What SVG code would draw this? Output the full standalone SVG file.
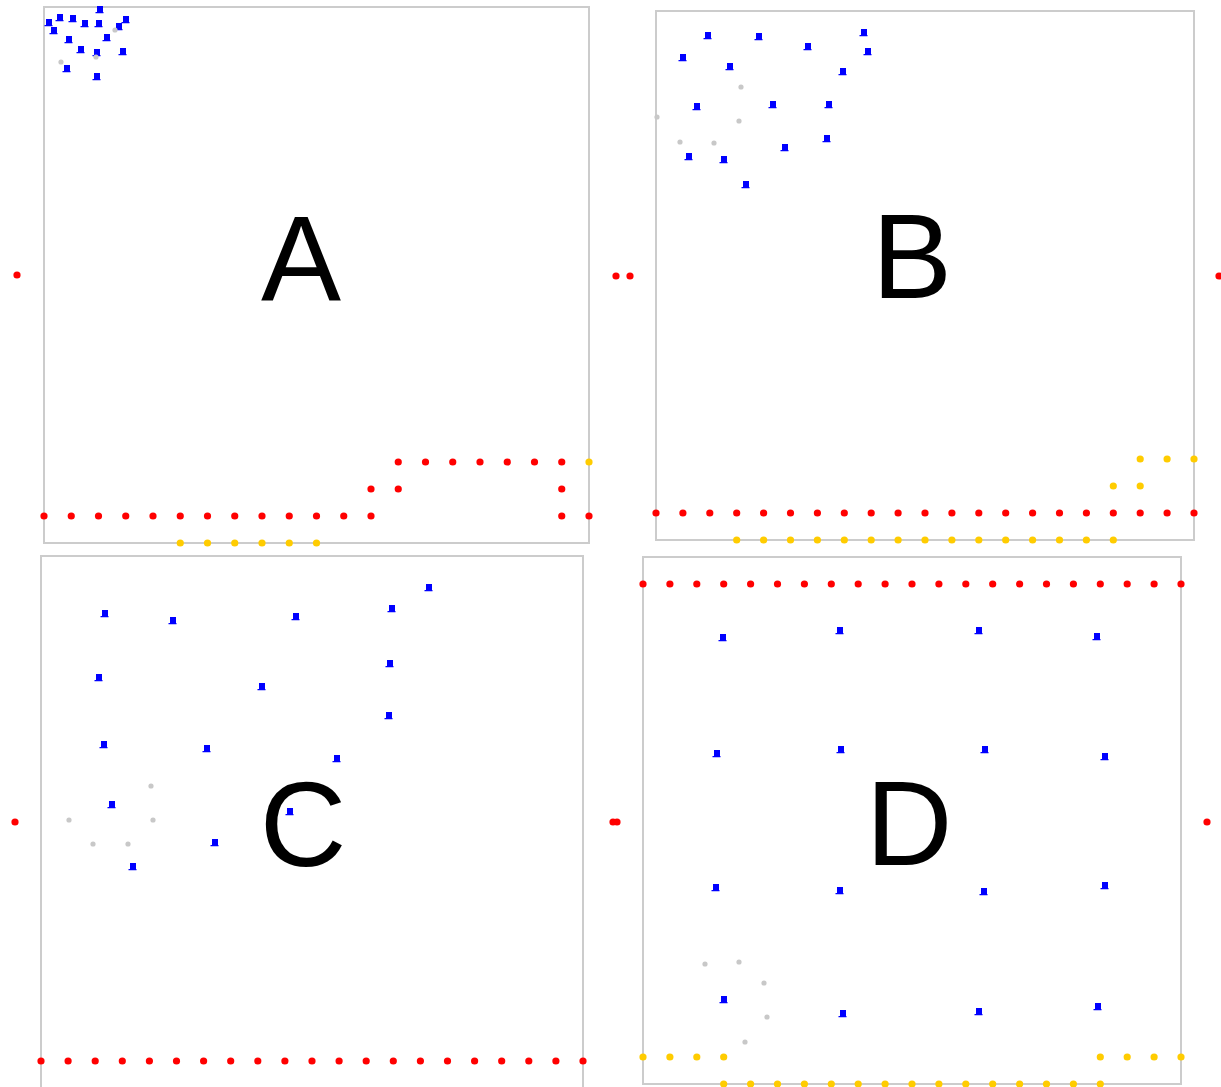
<svg xmlns="http://www.w3.org/2000/svg" xmlns:xlink="http://www.w3.org/1999/xlink" width="1221" height="1087" viewBox="0 0 1221 1087">
<style>
.frame{fill:none;stroke:#cccccc;stroke-width:2}
.lbl{font-family:"Liberation Sans",Arial,sans-serif;font-size:120px;fill:#000;text-anchor:middle}
</style>
<defs>
<circle id="r" r="3.6" fill="#ff0000"/>
<circle id="y" r="3.6" fill="#ffcc00"/>
<circle id="g" r="2.6" fill="#c8c8c8"/>
<path id="b" d="M-3,-3h6v6h-6z M-4.5,3h8v1.2h-8z" fill="#0000ff"/>
</defs>
<rect width="1221" height="1087" fill="#ffffff"/>

<g id="panelA">
<rect class="frame" x="44" y="7" width="545" height="536"/>
<text class="lbl" x="301" y="300">A</text>
<g id="A-blue">
<use href="#b" x="100" y="9"/><use href="#b" x="60" y="17"/><use href="#b" x="73" y="18"/><use href="#b" x="49" y="22"/><use href="#b" x="85" y="23"/><use href="#b" x="99" y="23"/><use href="#b" x="126" y="19"/><use href="#b" x="119" y="26"/><use href="#b" x="54" y="30"/><use href="#b" x="107" y="37"/><use href="#b" x="69" y="39"/><use href="#b" x="81" y="49"/><use href="#b" x="97" y="52"/><use href="#b" x="123" y="51"/><use href="#b" x="67" y="68"/><use href="#b" x="97" y="76"/>
</g>
<g id="A-gray"><use href="#g" x="115" y="30"/><use href="#g" x="96" y="57"/><use href="#g" x="61" y="62"/></g>
<g id="A-red">
<use href="#r" x="44" y="516"/><use href="#r" x="71.25" y="516"/><use href="#r" x="98.5" y="516"/><use href="#r" x="125.75" y="516"/><use href="#r" x="153" y="516"/><use href="#r" x="180.25" y="516"/><use href="#r" x="207.5" y="516"/><use href="#r" x="234.75" y="516"/><use href="#r" x="262" y="516"/><use href="#r" x="289.25" y="516"/><use href="#r" x="316.5" y="516"/><use href="#r" x="343.75" y="516"/><use href="#r" x="371" y="516"/>
<use href="#r" x="371" y="489"/><use href="#r" x="398.25" y="489"/>
<use href="#r" x="398.25" y="462"/><use href="#r" x="425.5" y="462"/><use href="#r" x="452.75" y="462"/><use href="#r" x="480" y="462"/><use href="#r" x="507.25" y="462"/><use href="#r" x="534.5" y="462"/><use href="#r" x="561.75" y="462"/>
<use href="#r" x="561.75" y="489"/><use href="#r" x="561.75" y="516"/><use href="#r" x="589" y="516"/>
</g>
<g id="A-yellow">
<use href="#y" x="589" y="462"/>
<use href="#y" x="180.25" y="543"/><use href="#y" x="207.5" y="543"/><use href="#y" x="234.75" y="543"/><use href="#y" x="262" y="543"/><use href="#y" x="289.25" y="543"/><use href="#y" x="316.5" y="543"/>
</g>
</g>

<g id="panelB">
<rect class="frame" x="656" y="11" width="538" height="529"/>
<text class="lbl" x="912" y="298">B</text>
<g id="B-blue">
<use href="#b" x="708" y="35"/><use href="#b" x="759" y="36"/><use href="#b" x="808" y="46"/><use href="#b" x="864" y="32"/><use href="#b" x="868" y="51"/><use href="#b" x="683" y="57"/><use href="#b" x="730" y="66"/><use href="#b" x="843" y="71"/><use href="#b" x="697" y="106"/><use href="#b" x="773" y="104"/><use href="#b" x="829" y="104"/><use href="#b" x="827" y="138"/><use href="#b" x="785" y="147"/><use href="#b" x="689" y="156"/><use href="#b" x="724" y="159"/><use href="#b" x="746" y="184"/>
</g>
<g id="B-gray"><use href="#g" x="741" y="87"/><use href="#g" x="657" y="117"/><use href="#g" x="739" y="121"/><use href="#g" x="680" y="142"/><use href="#g" x="714" y="143"/></g>
<g id="B-red">
<use href="#r" x="656" y="513"/><use href="#r" x="682.9" y="513"/><use href="#r" x="709.8" y="513"/><use href="#r" x="736.7" y="513"/><use href="#r" x="763.6" y="513"/><use href="#r" x="790.5" y="513"/><use href="#r" x="817.4" y="513"/><use href="#r" x="844.3" y="513"/><use href="#r" x="871.2" y="513"/><use href="#r" x="898.1" y="513"/><use href="#r" x="925" y="513"/><use href="#r" x="951.9" y="513"/><use href="#r" x="978.8" y="513"/><use href="#r" x="1005.7" y="513"/><use href="#r" x="1032.6" y="513"/><use href="#r" x="1059.5" y="513"/><use href="#r" x="1086.4" y="513"/><use href="#r" x="1113.3" y="513"/><use href="#r" x="1140.2" y="513"/><use href="#r" x="1167.1" y="513"/><use href="#r" x="1194" y="513"/>
</g>
<g id="B-yellow">
<use href="#y" x="736.7" y="540"/><use href="#y" x="763.6" y="540"/><use href="#y" x="790.5" y="540"/><use href="#y" x="817.4" y="540"/><use href="#y" x="844.3" y="540"/><use href="#y" x="871.2" y="540"/><use href="#y" x="898.1" y="540"/><use href="#y" x="925" y="540"/><use href="#y" x="951.9" y="540"/><use href="#y" x="978.8" y="540"/><use href="#y" x="1005.7" y="540"/><use href="#y" x="1032.6" y="540"/><use href="#y" x="1059.5" y="540"/><use href="#y" x="1086.4" y="540"/><use href="#y" x="1113.3" y="540"/>
<use href="#y" x="1113.3" y="486"/><use href="#y" x="1140.2" y="486"/>
<use href="#y" x="1140.2" y="459"/><use href="#y" x="1167.1" y="459"/><use href="#y" x="1194" y="459"/>
</g>
</g>

<g id="panelC">
<rect class="frame" x="41" y="556" width="542" height="540"/>
<text class="lbl" x="303" y="866">C</text>
<g id="C-blue">
<use href="#b" x="105" y="613"/><use href="#b" x="173" y="620"/><use href="#b" x="296" y="616"/><use href="#b" x="392" y="608"/><use href="#b" x="429" y="587"/><use href="#b" x="99" y="677"/><use href="#b" x="262" y="686"/><use href="#b" x="390" y="663"/><use href="#b" x="389" y="715"/><use href="#b" x="104" y="744"/><use href="#b" x="207" y="748"/><use href="#b" x="337" y="758"/><use href="#b" x="112" y="804"/><use href="#b" x="290" y="811"/><use href="#b" x="215" y="842"/><use href="#b" x="133" y="866"/>
</g>
<g id="C-gray"><use href="#g" x="151" y="786"/><use href="#g" x="69" y="820"/><use href="#g" x="153" y="820"/><use href="#g" x="93" y="844"/><use href="#g" x="128" y="844"/></g>
<g id="C-red">
<use href="#r" x="41" y="1061"/><use href="#r" x="68.1" y="1061"/><use href="#r" x="95.2" y="1061"/><use href="#r" x="122.3" y="1061"/><use href="#r" x="149.4" y="1061"/><use href="#r" x="176.5" y="1061"/><use href="#r" x="203.6" y="1061"/><use href="#r" x="230.7" y="1061"/><use href="#r" x="257.8" y="1061"/><use href="#r" x="284.9" y="1061"/><use href="#r" x="312" y="1061"/><use href="#r" x="339.1" y="1061"/><use href="#r" x="366.2" y="1061"/><use href="#r" x="393.3" y="1061"/><use href="#r" x="420.4" y="1061"/><use href="#r" x="447.5" y="1061"/><use href="#r" x="474.6" y="1061"/><use href="#r" x="501.7" y="1061"/><use href="#r" x="528.8" y="1061"/><use href="#r" x="555.9" y="1061"/><use href="#r" x="583" y="1061"/>
</g>
</g>

<g id="panelD">
<rect class="frame" x="643" y="557" width="538" height="527"/>
<text class="lbl" x="909" y="865">D</text>
<g id="D-blue">
<use href="#b" x="723" y="637"/><use href="#b" x="840" y="630"/><use href="#b" x="979" y="630"/><use href="#b" x="1097" y="636"/><use href="#b" x="717" y="753"/><use href="#b" x="841" y="749"/><use href="#b" x="985" y="749"/><use href="#b" x="1105" y="756"/><use href="#b" x="716" y="887"/><use href="#b" x="840" y="890"/><use href="#b" x="984" y="891"/><use href="#b" x="1105" y="885"/><use href="#b" x="724" y="999"/><use href="#b" x="843" y="1013"/><use href="#b" x="979" y="1011"/><use href="#b" x="1098" y="1006"/>
</g>
<g id="D-gray"><use href="#g" x="705" y="964"/><use href="#g" x="739" y="962"/><use href="#g" x="764" y="983"/><use href="#g" x="767" y="1017"/><use href="#g" x="745" y="1042"/></g>
<g id="D-red">
<use href="#r" x="643" y="584"/><use href="#r" x="669.9" y="584"/><use href="#r" x="696.8" y="584"/><use href="#r" x="723.7" y="584"/><use href="#r" x="750.6" y="584"/><use href="#r" x="777.5" y="584"/><use href="#r" x="804.4" y="584"/><use href="#r" x="831.3" y="584"/><use href="#r" x="858.2" y="584"/><use href="#r" x="885.1" y="584"/><use href="#r" x="912" y="584"/><use href="#r" x="938.9" y="584"/><use href="#r" x="965.8" y="584"/><use href="#r" x="992.7" y="584"/><use href="#r" x="1019.6" y="584"/><use href="#r" x="1046.5" y="584"/><use href="#r" x="1073.4" y="584"/><use href="#r" x="1100.3" y="584"/><use href="#r" x="1127.2" y="584"/><use href="#r" x="1154.1" y="584"/><use href="#r" x="1181" y="584"/>
</g>
<g id="D-yellow">
<use href="#y" x="643" y="1057"/><use href="#y" x="669.9" y="1057"/><use href="#y" x="696.8" y="1057"/><use href="#y" x="723.7" y="1057"/>
<use href="#y" x="1100.3" y="1057"/><use href="#y" x="1127.2" y="1057"/><use href="#y" x="1154.1" y="1057"/><use href="#y" x="1181" y="1057"/>
<use href="#y" x="723.7" y="1084"/><use href="#y" x="750.6" y="1084"/><use href="#y" x="777.5" y="1084"/><use href="#y" x="804.4" y="1084"/><use href="#y" x="831.3" y="1084"/><use href="#y" x="858.2" y="1084"/><use href="#y" x="885.1" y="1084"/><use href="#y" x="912" y="1084"/><use href="#y" x="938.9" y="1084"/><use href="#y" x="965.8" y="1084"/><use href="#y" x="992.7" y="1084"/><use href="#y" x="1019.6" y="1084"/><use href="#y" x="1046.5" y="1084"/><use href="#y" x="1073.4" y="1084"/><use href="#y" x="1100.3" y="1084"/>
</g>
</g>

<g id="outside-red">
<use href="#r" x="17" y="275"/><use href="#r" x="616" y="276"/><use href="#r" x="630" y="276"/><use href="#r" x="1219" y="276"/>
<use href="#r" x="15" y="822"/><use href="#r" x="613" y="822"/><use href="#r" x="617" y="822"/><use href="#r" x="1207" y="822"/>
</g>
</svg>
